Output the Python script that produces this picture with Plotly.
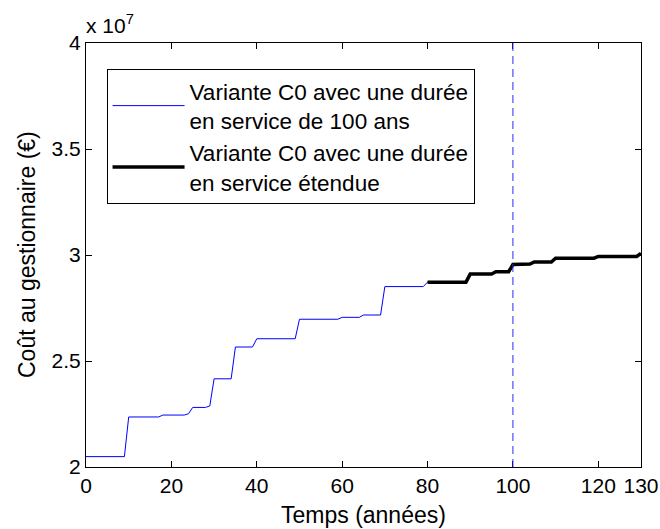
import plotly.graph_objects as go

# Data (years, cost in euros)
years_100 = [0, 9, 10, 17, 18, 23, 24, 25, 28, 29, 30, 34, 35, 39, 40, 49, 50,
             59, 60, 64, 65, 69, 70, 79, 80, 89, 90, 95, 96, 99, 100]
cost_100 = [2.049e7, 2.049e7, 2.236e7, 2.236e7, 2.245e7, 2.245e7, 2.251e7, 2.281e7,
            2.281e7, 2.288e7, 2.416e7, 2.416e7, 2.566e7, 2.566e7, 2.605e7, 2.605e7,
            2.697e7, 2.697e7, 2.706e7, 2.706e7, 2.717e7, 2.717e7, 2.851e7, 2.851e7,
            2.872e7, 2.872e7, 2.910e7, 2.910e7, 2.921e7, 2.921e7, 2.955e7]

years_ext = [80, 89, 90, 95, 96, 99, 100, 104, 105, 109, 110, 119, 120, 129, 130]
cost_ext = [2.872e7, 2.872e7, 2.910e7, 2.910e7, 2.921e7, 2.921e7, 2.955e7, 2.957e7,
            2.967e7, 2.967e7, 2.985e7, 2.985e7, 2.993e7, 2.993e7, 3.008e7]

service_life = 100

x_ticks = [0, 20, 40, 60, 80, 100, 120, 130]
y_ticks = [2e7, 2.5e7, 3e7, 3.5e7, 4e7]
y_tick_labels = ["2", "2.5", "3", "3.5", "4"]

name_100 = "Variante C0 avec une durée<br>en service de 100 ans"
name_ext = "Variante C0 avec une durée<br>en service étendue"
x_title = "Temps (années)"
y_title = "Coût au gestionnaire (€)"

FONT = "Liberation Sans, Arial, sans-serif"

fig = go.Figure()
fig.add_trace(go.Scatter(x=years_100, y=cost_100, mode="lines", name=name_100,
                         line=dict(color="#0000ff", width=1)))
fig.add_trace(go.Scatter(x=years_ext, y=cost_ext, mode="lines", name=name_ext,
                         line=dict(color="#000000", width=3.5)))

fig.add_shape(type="line", xref="x", yref="paper", x0=service_life, x1=service_life,
              y0=0, y1=1, line=dict(color="#2a2aff", width=1, dash="8px,5px"))

fig.add_annotation(xref="paper", yref="paper", x=0, y=1, xanchor="left", yanchor="bottom",
                   text="x 10<sup>7</sup>", showarrow=False, xshift=-2, yshift=4,
                   font=dict(family=FONT, size=21, color="black"))
fig.add_annotation(xref="paper", yref="paper", x=0.5, y=0, xanchor="center", yanchor="middle",
                   text=x_title, showarrow=False, yshift=-48,
                   font=dict(family=FONT, size=23, color="black"))
fig.add_annotation(xref="paper", yref="paper", x=0, y=0.5, xanchor="center", yanchor="middle",
                   text=y_title, showarrow=False, xshift=-59, textangle=-90,
                   font=dict(family=FONT, size=23, color="black"))

axis_common = dict(showline=True, linecolor="black", linewidth=1, mirror="ticks",
                   ticks="inside", ticklen=6, tickcolor="black", tickwidth=1,
                   showgrid=False, zeroline=False, automargin=False,
                   tickfont=dict(family=FONT, size=21, color="black"))

fig.update_layout(
    width=660, height=529,
    margin=dict(l=86, r=19, t=43, b=62, autoexpand=False),
    paper_bgcolor="white", plot_bgcolor="white",
    xaxis=dict(range=[0, 130], tickvals=x_ticks, **axis_common),
    yaxis=dict(range=[2e7, 4e7], tickvals=y_ticks, ticktext=y_tick_labels,
               **axis_common),
    legend=dict(x=0.037, y=0.939, xanchor="left", yanchor="top",
                bgcolor="white", bordercolor="black", borderwidth=1,
                itemwidth=72, tracegroupgap=0,
                font=dict(family=FONT, size=22.5, color="black")),
    showlegend=True,
)

fig.write_html("out.html", config={"displayModeBar": False},
               post_script="document.body.style.margin='0';document.body.style.overflow='hidden';")
